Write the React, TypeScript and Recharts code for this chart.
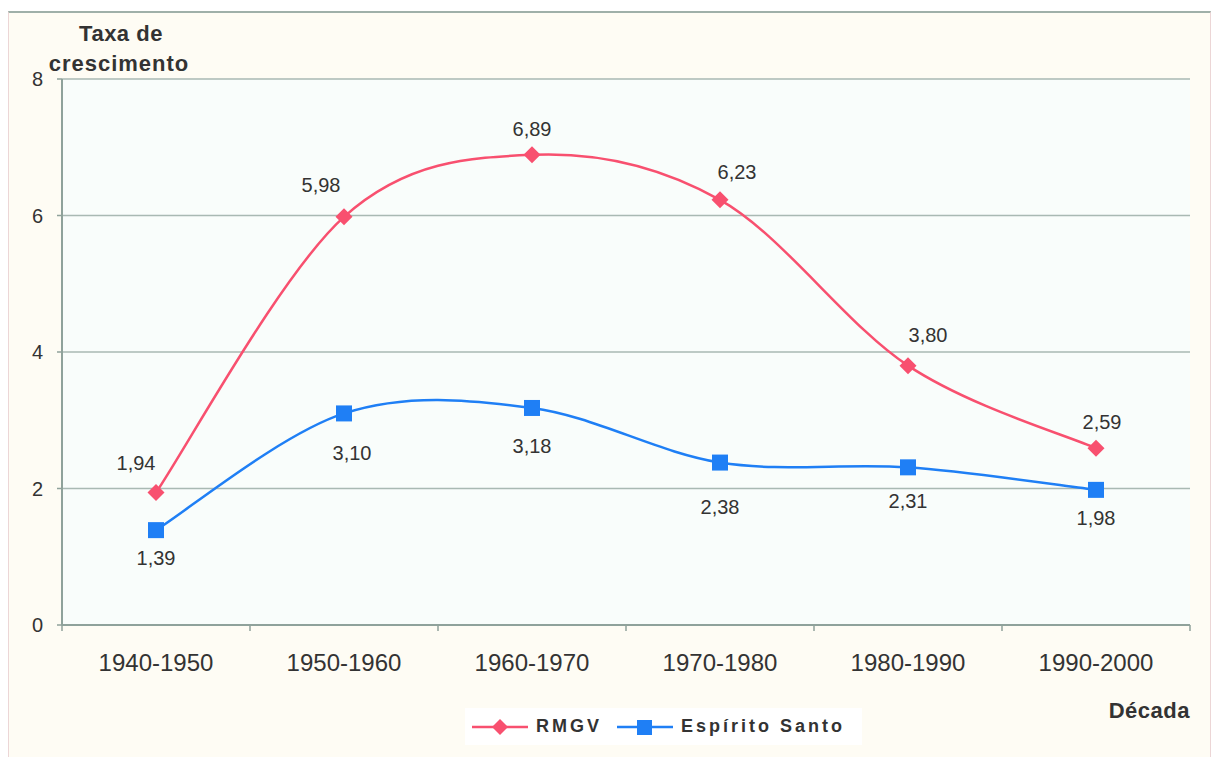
import { LineChart, Line, XAxis, YAxis, CartesianGrid, LabelList } from 'recharts';

const decades = ['1940-1950', '1950-1960', '1960-1970', '1970-1980', '1980-1990', '1990-2000'];
const rmgv = [1.94, 5.98, 6.89, 6.23, 3.8, 2.59];
const espiritoSanto = [1.39, 3.1, 3.18, 2.38, 2.31, 1.98];
const yTicks = [0, 2, 4, 6, 8];

// label nudges (pixels), roughly how Excel placed them
const rmgvLabelOffset = [[-20, -30], [-23, -32], [0, -26], [17, -28], [20, -31], [6, -26]];
const esLabelOffset = [[0, 28], [8, 39], [0, 38], [0, 44], [0, 33], [0, 28]];

const data = decades.map((d, i) => ({ decada: d, rmgv: rmgv[i], es: espiritoSanto[i] }));

const PINK = '#f8506f';
const BLUE = '#1f7ff5';
const AXIS = '#8fa29b';
const GRID = '#a9b9b3';
const TEXT = '#333';
const FONT = '"Liberation Sans", Arial, sans-serif';
const BAND = 188;

// Excel-like smoothed line (Catmull-Rom through the points)
function excelCurve(context: any) {
  let pts: number[][] = [];
  return {
    areaStart() {},
    areaEnd() {},
    lineStart() {
      pts = [];
    },
    lineEnd() {
      const n = pts.length;
      if (!n) return;
      context.moveTo(pts[0][0], pts[0][1]);
      for (let i = 0; i < n - 1; i++) {
        const p0 = pts[Math.max(i - 1, 0)];
        const p1 = pts[i];
        const p2 = pts[i + 1];
        const p3 = pts[Math.min(i + 2, n - 1)];
        context.bezierCurveTo(
          p1[0] + (p2[0] - p0[0]) / 6,
          p1[1] + (p2[1] - p0[1]) / 6,
          p2[0] - (p3[0] - p1[0]) / 6,
          p2[1] - (p3[1] - p1[1]) / 6,
          p2[0],
          p2[1]
        );
      }
    },
    point(x: number, y: number) {
      pts.push([+x, +y]);
    },
  };
}

const fmt = (v: number) => v.toFixed(2).replace('.', ',');

function Diamond({ cx, cy, key }: any) {
  const h = 8.5;
  if (cx == null || cy == null) return <g key={key} />;
  return <path key={key} d={`M${cx},${cy - h}L${cx + h},${cy}L${cx},${cy + h}L${cx - h},${cy}Z`} fill={PINK} />;
}

function Square({ cx, cy, key }: any) {
  const s = 16;
  if (cx == null || cy == null) return <g key={key} />;
  return <rect key={key} x={cx - s / 2} y={cy - s / 2} width={s} height={s} fill={BLUE} />;
}

function XTick({ x, y, payload, index }: any) {
  return (
    <g>
      <line x1={x - BAND / 2} y1={y} x2={x - BAND / 2} y2={y + 6} stroke={AXIS} strokeWidth={1.5} />
      {index === decades.length - 1 && (
        <line x1={x + BAND / 2} y1={y} x2={x + BAND / 2} y2={y + 6} stroke={AXIS} strokeWidth={1.5} />
      )}
      <text x={x} y={y + 46} textAnchor="middle" fill={TEXT} fontSize={24} fontFamily={FONT}>
        {payload.value}
      </text>
    </g>
  );
}

function makeLabel(offsets: number[][]) {
  return (props: any) => {
    const { x, y, value, index } = props;
    const [dx, dy] = offsets[index] || [0, 0];
    return (
      <text x={x + dx} y={y + dy} dy="0.36em" textAnchor="middle" fill={TEXT} fontSize={20} fontFamily={FONT}>
        {fmt(value)}
      </text>
    );
  };
}

function LegendBox() {
  return (
    <div
      style={{
        position: 'absolute',
        left: 465,
        top: 708,
        display: 'flex',
        alignItems: 'center',
        background: '#ffffff',
        height: 37,
        width: 397,
        fontFamily: FONT,
        fontWeight: 'bold',
        fontSize: 18,
        letterSpacing: 3,
        color: TEXT,
      }}
    >
      <svg width={64} height={20} style={{ marginLeft: 7 }}>
        <line x1={0} y1={10} x2={56} y2={10} stroke={PINK} strokeWidth={2.5} />
        <path d="M28,2L36,10L28,18L20,10Z" fill={PINK} />
      </svg>
      <span>RMGV</span>
      <svg width={64} height={20} style={{ marginLeft: 15 }}>
        <line x1={0} y1={10} x2={56} y2={10} stroke={BLUE} strokeWidth={2.5} />
        <rect x={20} y={3} width={15} height={15} fill={BLUE} />
      </svg>
      <span>Espírito Santo</span>
    </div>
  );
}

export default function App() {
  return (
    <div style={{ position: 'absolute', left: 0, top: 0, width: 1214, height: 757, background: '#ffffff', overflow: 'hidden' }}>
      <div
        style={{
          position: 'absolute',
          left: 8,
          top: 11,
          width: 1201,
          height: 760,
          background: '#fefcf4',
          borderTop: '2px solid #9fb0a9',
          borderLeft: '1px solid #ecd6d6',
          borderRight: '1px solid #ecd6d6',
        }}
      />
      <div style={{ position: 'absolute', left: 0, top: 0 }}>
        <LineChart width={1214} height={757} data={data} margin={{ top: 79, right: 24, bottom: 102, left: 8 }}>
          <CartesianGrid vertical={false} stroke={GRID} strokeWidth={1.5} fill="#f9fdfb" fillOpacity={1} />
          <XAxis
            dataKey="decada"
            padding={{ left: 94, right: 94 }}
            tickLine={false}
            tickSize={0}
            tickMargin={0}
            axisLine={{ stroke: AXIS, strokeWidth: 2 }}
            tick={<XTick />}
            interval={0}
          />
          <YAxis
            width={54}
            domain={[0, 8]}
            ticks={yTicks}
            tickSize={5}
            tickMargin={14}
            tickLine={{ stroke: AXIS, strokeWidth: 1.5 }}
            axisLine={{ stroke: AXIS, strokeWidth: 2 }}
            tick={{ fill: TEXT, fontSize: 20, fontFamily: FONT }}
          />
          <YAxis
            yAxisId="right"
            orientation="right"
            width={0}
            domain={[0, 8]}
            tick={false}
            tickLine={false}
            axisLine={{ stroke: GRID, strokeWidth: 2 }}
          />
          <Line
            dataKey="rmgv"
            name="RMGV"
            type={excelCurve as any}
            stroke={PINK}
            strokeWidth={2.5}
            dot={<Diamond />}
            activeDot={false}
            isAnimationActive={false}
          >
            <LabelList dataKey="rmgv" content={makeLabel(rmgvLabelOffset)} />
          </Line>
          <Line
            dataKey="es"
            name="Espírito Santo"
            type={excelCurve as any}
            stroke={BLUE}
            strokeWidth={2.5}
            dot={<Square />}
            activeDot={false}
            isAnimationActive={false}
          >
            <LabelList dataKey="es" content={makeLabel(esLabelOffset)} />
          </Line>
        </LineChart>
      </div>
      <LegendBox />
      <svg width={1214} height={757} style={{ position: 'absolute', left: 0, top: 0, pointerEvents: 'none' }}>
        <g fontFamily={FONT} fontWeight="bold" fontSize={22} fill={TEXT}>
          <text x={121} y={41} textAnchor="middle" letterSpacing={0.5}>
            Taxa de
          </text>
          <text x={119} y={71} textAnchor="middle" letterSpacing={1}>
            crescimento
          </text>
          <text x={1190} y={718} textAnchor="end" letterSpacing={0.5}>
            Década
          </text>
        </g>
      </svg>
    </div>
  );
}
